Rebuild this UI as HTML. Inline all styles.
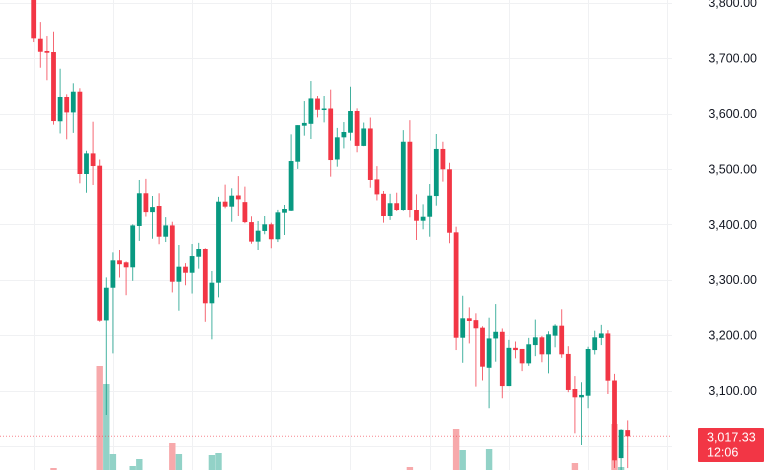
<!DOCTYPE html>
<html><head><meta charset="utf-8">
<style>
html,body{margin:0;padding:0;background:#fff;overflow:hidden}
svg{display:block;font-family:"Liberation Sans",sans-serif}
</style></head>
<body>
<svg id="chart" width="780" height="470" viewBox="0 0 780 470" xmlns="http://www.w3.org/2000/svg">
<g id="grid"></g>
<g id="vol"></g>
<g id="candles"></g>
<g id="axis"></g>
</svg>
<script>
const opens  = [3830,3735,3712.8,3711,3586,3629.8,3602,3639.3,3490.8,3528,3505.8,3226.5,3285.5,3335,3331.4,3322.4,3397,3456,3422,3433,3377.6,3398,3296.4,3323.5,3312.6,3341.5,3355.4,3257.4,3294.6,3440.8,3431.8,3452,3440,3404,3368.7,3388,3400,3373,3421,3424.5,3513,3578,3581.4,3627,3608,3609,3517,3557,3565.3,3604.5,3541.5,3573,3481,3455,3415,3438,3425.8,3549,3425.8,3406.5,3413.7,3451,3536,3499.3,3385.5,3195.3,3230.3,3227,3213.4,3141,3194,3206,3108,3177,3175,3149,3182,3196,3165.3,3199,3217,3166,3102.7,3087.7,3090.6,3173,3195,3203,3118,2978,3028.5];
const highs  = [3850,3765,3739.8,3747.6,3680.8,3634.6,3654.5,3645.5,3532.8,3585.2,3517,3304.3,3349.4,3353.6,3333,3400,3480,3482,3451,3456,3413,3404.7,3362.6,3330,3364.4,3366.5,3356.7,3315.7,3449.6,3471.6,3465,3487,3468,3414.5,3406,3415,3403,3426,3434.8,3562.4,3579,3622.5,3658.6,3631.6,3631.6,3643,3574,3584.6,3648.3,3609.3,3583.7,3592.8,3505,3460,3455,3457,3570,3588,3454,3436,3472.7,3563,3549,3511,3395.7,3271,3250,3239.3,3216,3231.4,3256,3212,3191.4,3188.5,3175,3195,3228,3198.5,3207,3219.6,3246.6,3180,3126,3115,3179,3208,3218.5,3209,3130,3030,3046];
const lows   = [3729,3682.6,3660,3580,3564,3553.4,3565,3474,3457,3471,3224,3055.8,3167,3304,3272,3298,3370,3414,3374,3364,3368,3277,3244,3290,3275,3320,3224,3192.4,3268,3428.8,3404.7,3415,3402,3365,3353.6,3382,3356.7,3368,3380.7,3424,3500,3560,3554,3593,3584,3486,3504,3537,3551,3530,3541,3466,3443,3403,3408,3424,3424.5,3412.6,3371.6,3391,3377.6,3433.6,3477,3365.7,3173,3150,3185,3107,3118,3068,3152,3086,3108,3158,3135,3144.5,3162,3151,3131,3178,3159,3097,3022.7,3001.6,3068,3165,3182,3093.7,2960,2950,2960];
const closes = [3735.7,3711.5,3709.7,3586.4,3629.8,3602,3639.3,3490.8,3528,3505.2,3226,3285.5,3335,3328,3322.4,3398,3456,3422,3431,3377.6,3398,3296.4,3323.5,3312.6,3342.7,3355.4,3257.4,3294.6,3440.8,3431.8,3451.6,3445,3404,3368.7,3388.5,3400,3373,3421.6,3427.6,3514.2,3579,3583,3627.2,3606.7,3609,3516,3557,3566.6,3604.5,3541.5,3573,3480,3454,3415,3438,3425.8,3549,3425.8,3406.5,3413.7,3451.6,3536,3499.3,3384.8,3195.3,3230.3,3225.5,3212.3,3143,3194,3206,3108,3177,3173,3149,3183.4,3196,3165.3,3201.4,3217,3165.3,3101,3087.7,3092,3174.9,3196,3203,3117.7,2974,3029,3017.33];
const volumes= [10,10,10,22,10,10,10,10,10,10,124,106,36,10,10,24,31,10,10,10,10,47,36,10,10,10,10,35,37,10,10,10,10,10,10,10,10,10,10,10,10,10,10,10,10,10,10,10,10,10,10,10,10,10,10,10,10,23,10,10,10,10,10,10,61,40,10,10,10,41,10,10,10,10,10,10,10,10,10,10,10,10,27,10,10,10,10,10,66,23,10];
const tickValues = [3800,3700,3600,3500,3400,3300,3200,3100,3000];
const tickLabels = ["3,800.00","3,700.00","3,600.00","3,500.00","3,400.00","3,300.00","3,200.00","3,100.00","3,000.00"];
const lastPriceLabel = "3,017.33";
const countdownLabel = "12:06";

const NS="http://www.w3.org/2000/svg";
function yScale(p){return 390.5-(p-3100)*0.554;}
function xScale(i){return 33.7+i*6.6;}
function vScale(v){return 490-v;}
function mk(tag,attrs,parent){const e=document.createElementNS(NS,tag);for(const k in attrs)e.setAttribute(k,attrs[k]);parent.appendChild(e);return e;}
const grid=document.getElementById('grid'),vol=document.getElementById('vol'),cg=document.getElementById('candles'),ax=document.getElementById('axis');
// grid
tickValues.forEach((t)=>{const y=Math.round(yScale(t))+0.5;
  const l=mk('line',{x1:0,x2:697,y1:y,y2:y,stroke:'#f0f1f3','stroke-width':1},grid);
  
  
});
for(let k=0;k<9;k++){const x=Math.round(33.5+k*79.2)+0.5;
  const l=mk('line',{x1:x,x2:x,y1:0,y2:470,stroke:'#f0f1f3','stroke-width':1},grid);
  
  
}
// volume
volumes.forEach((v,i)=>{const up=closes[i]>=opens[i];const top=vScale(v);
  const r=mk('rect',{x:xScale(i)-3.2,y:top,width:6.4,height:480-top,fill:up?'#92d2c7':'#f7a9ab'},vol);
  
  
});
// last price line
const pl=mk('line',{x1:0,x2:697,y1:yScale(3017.33),y2:yScale(3017.33),stroke:'#f23645','stroke-width':1,'stroke-dasharray':'1 2',opacity:0.6},cg);


// candles
opens.forEach((o,i)=>{const c=closes[i];const up=c>=o;const col=up?'#089981':'#f23645';const x=xScale(i);
  const g=mk('g',{},cg);
  
  
  mk('line',{x1:x,x2:x,y1:yScale(highs[i]),y2:yScale(lows[i]),stroke:col,'stroke-width':1,opacity:0.75},g);
  const yt=yScale(Math.max(o,c)),yb=yScale(Math.min(o,c));
  mk('rect',{x:x-2.4,y:yt,width:4.8,height:Math.max(1.5,yb-yt),fill:col},g);
});
// axis labels
mk('rect',{x:672,y:0,width:108,height:470,fill:'#fff'},ax);
tickValues.forEach((t,i)=>{if(t<3050)return;
  const tx=mk('text',{x:757,y:yScale(t)+4.5,'text-anchor':'end','font-size':'12.5',fill:'#131722'},ax);
  tx.textContent=tickLabels[i];
  
  
});
const box=mk('rect',{x:698,y:428,width:66,height:34,rx:1,fill:'#f23645'},ax);


const t1=mk('text',{x:707,y:441.5,'font-size':'12.5',fill:'#fff'},ax);t1.textContent=lastPriceLabel;


const t2=mk('text',{x:707,y:456.5,'font-size':'12.5',fill:'#fff'},ax);t2.textContent=countdownLabel;


</script>
</body></html>
